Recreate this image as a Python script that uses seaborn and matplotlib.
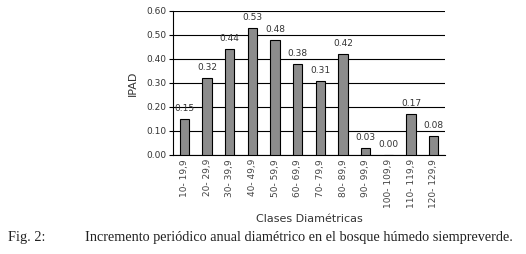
import pandas as pd
import numpy as np
import seaborn as sns
from matplotlib import pyplot as plt

clases = ['10- 19,9', '20- 29,9', '30- 39,9', '40- 49,9', '50- 59,9', '60- 69,9',
          '70- 79,9', '80- 89,9', '90- 99,9', '100- 109,9', '110- 119,9', '120- 129,9']
ipad = [0.15, 0.32, 0.44, 0.53, 0.48, 0.38, 0.31, 0.42, 0.03, 0.00, 0.17, 0.08]
yticks = [0.0, 0.1, 0.2, 0.3, 0.4, 0.5, 0.6]

df = pd.DataFrame({'clase': clases, 'ipad': ipad})

sns.set_style('white')
plt.rcParams['font.family'] = ['DejaVu Sans']

fig = plt.figure(figsize=(5.26, 2.54), dpi=100)
ax = fig.add_axes([0.329, 0.39, 0.517, 0.567])

sns.barplot(data=df, x='clase', y='ipad', color='#8c8c8c', edgecolor='black',
            linewidth=0.8, width=0.42, saturation=1, ax=ax, zorder=3)

ax.set_ylim(0, 0.6)
ax.set_xlim(-0.5, len(clases) - 0.5)
ax.set_yticks(yticks)
ax.set_yticklabels(['%.2f' % v for v in yticks], fontsize=6.5, color='#333333')
ax.yaxis.grid(True, color='black', linewidth=0.8, zorder=0)
ax.set_axisbelow(True)

ax.set_xticks(np.arange(len(clases)))
ax.set_xticklabels(clases, rotation=90, fontsize=6.5, color='#444444')
ax.tick_params(axis='x', length=0, pad=3)
# marcas entre clases
ax.set_xticks(np.arange(len(clases) + 1) - 0.5, minor=True)
ax.tick_params(axis='x', which='minor', length=3, color='black', direction='out')
ax.tick_params(axis='y', length=3, color='black', direction='out', left=True, pad=2)

for s in ['top', 'right']:
    ax.spines[s].set_visible(False)
for s in ['left', 'bottom']:
    ax.spines[s].set_color('black')
    ax.spines[s].set_linewidth(0.8)

for i, v in enumerate(ipad):
    ax.text(i, v + 0.025, '%.2f' % v, ha='center', va='bottom', fontsize=6.5, color='#333333')

ax.set_ylabel('IPAD', fontsize=8, color='#333333', labelpad=6)
ax.set_xlabel('Clases Diamétricas', fontsize=8, color='#333333', labelpad=4)

fig.text(0.015, 0.05, 'Fig. 2:', fontsize=10.3, family='Liberation Serif', color='#222222')
fig.text(0.162, 0.05, 'Incremento periódico anual diamétrico en el bosque húmedo siempreverde.',
         fontsize=10.3, family='Liberation Serif', color='#222222')

fig.savefig('out.png', dpi=100)
